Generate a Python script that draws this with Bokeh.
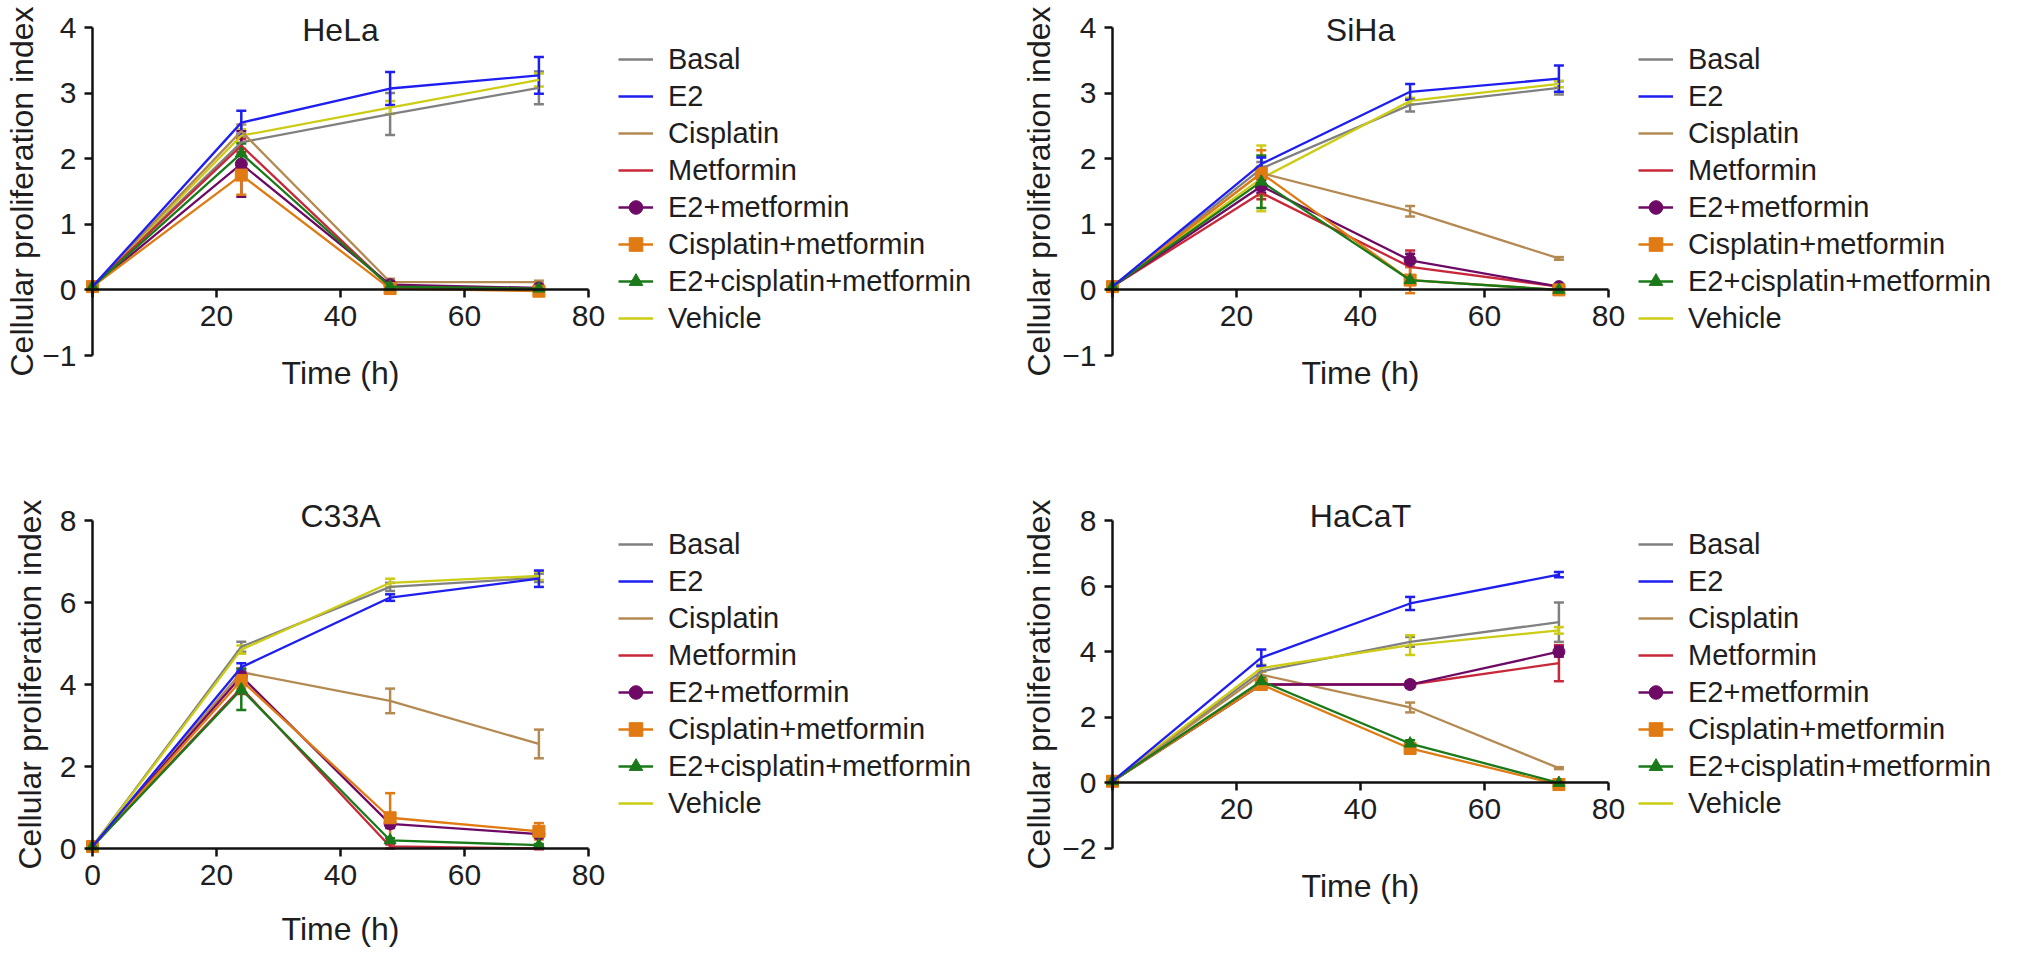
from math import pi

from bokeh.embed import file_html
from bokeh.layouts import column, row
from bokeh.models import (ColumnDataSource, FixedTicker, Label, Legend,
                          LegendItem, Range1d, TeeHead, Whisker)
from bokeh.plotting import figure
from bokeh.resources import INLINE

hours = [0, 24, 48, 72]
x_ticks = [0, 20, 40, 60, 80]

treatments = ["Basal", "E2", "Cisplatin", "Metformin", "E2+metformin",
              "Cisplatin+metformin", "E2+cisplatin+metformin", "Vehicle"]
colors = ["#808080", "#1e1ef0", "#b48a52", "#c8283a", "#6e0a66",
          "#e07a12", "#1a7a1a", "#cccc14"]
markers = [None, None, None, None, "circle", "square", "triangle", None]
# order in which the lines are stacked (last on top)
draw_order = ["Basal", "Vehicle", "Cisplatin", "Metformin", "E2+metformin",
              "Cisplatin+metformin", "E2+cisplatin+metformin", "E2"]

# HeLa
hela_basal = [0.05, 2.25, 2.68, 3.08]
hela_e2 = [0.05, 2.55, 3.07, 3.27]
hela_cis = [0.05, 2.42, 0.12, 0.12]
hela_met = [0.05, 2.20, 0.05, 0.00]
hela_e2met = [0.05, 1.92, 0.08, 0.03]
hela_cismet = [0.05, 1.75, 0.02, -0.02]
hela_e2cismet = [0.05, 2.08, 0.05, 0.02]
hela_vehicle = [0.05, 2.35, 2.78, 3.20]
hela_sd = [[0.03, 0.10, 0.32, 0.25], [0.03, 0.18, 0.25, 0.28],
           [0.03, 0.10, 0.05, 0.02], [0.03, 0.10, 0.05, 0.02],
           [0.03, 0.50, 0.05, 0.02], [0.03, 0.30, 0.05, 0.02],
           [0.03, 0.15, 0.05, 0.02], [0.03, 0.10, 0.10, 0.10]]

# SiHa
siha_basal = [0.05, 1.85, 2.82, 3.08]
siha_e2 = [0.05, 1.92, 3.02, 3.22]
siha_cis = [0.05, 1.78, 1.20, 0.48]
siha_met = [0.05, 1.48, 0.35, 0.05]
siha_e2met = [0.05, 1.58, 0.45, 0.05]
siha_cismet = [0.05, 1.78, 0.15, 0.00]
siha_e2cismet = [0.05, 1.65, 0.15, 0.00]
siha_vehicle = [0.05, 1.70, 2.88, 3.14]
siha_sd = [[0.03, 0.10, 0.10, 0.10], [0.03, 0.10, 0.12, 0.20],
           [0.03, 0.10, 0.08, 0.02], [0.03, 0.10, 0.25, 0.02],
           [0.03, 0.10, 0.10, 0.03], [0.03, 0.35, 0.20, 0.02],
           [0.03, 0.40, 0.05, 0.02], [0.03, 0.50, 0.05, 0.05]]

# C33A
c33a_basal = [0.05, 4.92, 6.38, 6.60]
c33a_e2 = [0.05, 4.42, 6.12, 6.58]
c33a_cis = [0.05, 4.30, 3.60, 2.55]
c33a_met = [0.05, 3.92, 0.05, 0.00]
c33a_e2met = [0.05, 4.20, 0.60, 0.35]
c33a_cismet = [0.05, 4.10, 0.75, 0.42]
c33a_e2cismet = [0.05, 3.88, 0.20, 0.08]
c33a_vehicle = [0.05, 4.85, 6.48, 6.65]
c33a_sd = [[0.03, 0.12, 0.10, 0.10], [0.03, 0.10, 0.08, 0.20],
           [0.03, 0.10, 0.30, 0.35], [0.03, 0.15, 0.05, 0.02],
           [0.03, 0.10, 0.10, 0.10], [0.03, 0.20, 0.60, 0.20],
           [0.03, 0.50, 0.05, 0.03], [0.03, 0.10, 0.10, 0.10]]

# HaCaT
hacat_basal = [0.05, 3.40, 4.30, 4.90]
hacat_e2 = [0.05, 3.82, 5.47, 6.35]
hacat_cis = [0.05, 3.30, 2.30, 0.45]
hacat_met = [0.05, 3.00, 3.00, 3.65]
hacat_e2met = [0.05, 3.00, 3.00, 4.00]
hacat_cismet = [0.05, 3.00, 1.05, -0.05]
hacat_e2cismet = [0.05, 3.10, 1.20, 0.00]
hacat_vehicle = [0.05, 3.50, 4.20, 4.65]
hacat_sd = [[0.03, 0.15, 0.15, 0.60], [0.03, 0.25, 0.20, 0.08],
            [0.03, 0.10, 0.15, 0.03], [0.05, 0.10, 0.10, 0.55],
            [0.05, 0.10, 0.10, 0.15], [0.05, 0.10, 0.10, 0.05],
            [0.05, 0.10, 0.10, 0.05], [0.03, 0.10, 0.30, 0.10]]

hela_y_ticks = [-1, 0, 1, 2, 3, 4]
siha_y_ticks = [-1, 0, 1, 2, 3, 4]
c33a_y_ticks = [0, 2, 4, 6, 8]
hacat_y_ticks = [-2, 0, 2, 4, 6, 8]

FONT = "Liberation Sans"
TEXT = "#1e1e1e"
X_PPU = 6.2      # px per hour
X0_PX = 92       # x=0 from the figure's left edge
AXIS_PX = 328    # length of every y axis


def make_panel(title, means, sds, y_ticks, width, height, top_px,
               title_px, time_px, ylabel_px, legend_top, show_x0):
    y_lo, y_hi = y_ticks[0], y_ticks[-1]
    ppu = AXIS_PX / (y_hi - y_lo)
    y_end = y_hi + top_px / ppu
    x_start = -X0_PX / X_PPU

    p = figure(frame_width=width, frame_height=height,
               x_range=Range1d(x_start, x_start + width / X_PPU),
               y_range=Range1d(y_end - height / ppu, y_end),
               output_backend="svg", toolbar_location=None, min_border=0)
    p.grid.visible = False
    p.outline_line_color = None

    p.xaxis.fixed_location = 0
    p.xaxis.bounds = (x_ticks[0], x_ticks[-1])
    p.xaxis.ticker = FixedTicker(ticks=x_ticks)
    if not show_x0:
        p.xaxis.major_label_overrides = {0: ""}
    p.yaxis.fixed_location = 0
    p.yaxis.bounds = (y_lo, y_hi)
    p.yaxis.ticker = FixedTicker(ticks=y_ticks)
    p.yaxis.major_label_overrides = {t: "\u2212" + str(-t) for t in y_ticks if t < 0}
    for ax in (p.xaxis[0], p.yaxis[0]):
        ax.axis_line_width = 2.5
        ax.axis_line_color = "#111111"
        ax.major_tick_line_width = 2.5
        ax.major_tick_line_color = "#111111"
        ax.major_tick_out = 8
        ax.major_tick_in = 0
        ax.minor_tick_line_color = None
        ax.major_label_text_font = FONT
        ax.major_label_text_font_size = "30px"
        ax.major_label_text_color = TEXT
    p.xaxis.major_label_standoff = 8
    p.yaxis.major_label_standoff = 8

    rends = {}
    for name in draw_order:
        i = treatments.index(name)
        m, s, color = means[i], sds[i], colors[i]
        src = ColumnDataSource(dict(
            x=hours, y=m,
            lower=[a - b for a, b in zip(m, s)],
            upper=[a + b for a, b in zip(m, s)]))
        p.add_layout(Whisker(
            source=src, base="x", lower="lower", upper="upper",
            line_color=color, line_width=2.5,
            upper_head=TeeHead(size=10, line_color=color, line_width=2.5),
            lower_head=TeeHead(size=10, line_color=color, line_width=2.5)))
        r = [p.line("x", "y", source=src, line_color=color, line_width=2.3)]
        if markers[i]:
            r.append(p.scatter("x", "y", source=src, marker=markers[i],
                               size=12, fill_color=color, line_color=color))
        rends[name] = r

    item_h, gap, pad = 34, 3, 4
    n = len(treatments)
    leg_h = 2 * pad + n * item_h + (n - 1) * gap
    legend = Legend(
        items=[LegendItem(label=t, renderers=rends[t]) for t in treatments],
        location=(622 - pad, height - legend_top - leg_h),
        label_text_font=FONT, label_text_font_size="29px",
        label_text_color=TEXT, label_height=item_h, glyph_height=item_h,
        glyph_width=35, label_standoff=15, spacing=gap, padding=pad,
        margin=0, border_line_color=None, background_fill_alpha=0)
    p.add_layout(legend)

    p.add_layout(Label(x=40, y=height - title_px, y_units="screen", text=title,
                       text_align="center", text_baseline="alphabetic",
                       text_font=FONT, text_font_size="32px", text_color=TEXT))
    p.add_layout(Label(x=40, y=height - time_px, y_units="screen", text="Time (h)",
                       text_align="center", text_baseline="middle",
                       text_font=FONT, text_font_size="32px", text_color=TEXT))
    p.add_layout(Label(x=ylabel_px, y=(y_lo + y_hi) / 2, x_units="screen",
                       text="Cellular proliferation index", angle=pi / 2,
                       text_align="center", text_baseline="middle",
                       text_font=FONT, text_font_size="32px", text_color=TEXT))
    return p


p1 = make_panel("HeLa",
                [hela_basal, hela_e2, hela_cis, hela_met, hela_e2met,
                 hela_cismet, hela_e2cismet, hela_vehicle],
                hela_sd, hela_y_ticks, 1020, 480, 27, 29, 372, 21, 34, False)
p2 = make_panel("SiHa",
                [siha_basal, siha_e2, siha_cis, siha_met, siha_e2met,
                 siha_cismet, siha_e2cismet, siha_vehicle],
                siha_sd, siha_y_ticks, 996, 480, 27, 29, 372, 18, 34, False)
p3 = make_panel("C33A",
                [c33a_basal, c33a_e2, c33a_cis, c33a_met, c33a_e2met,
                 c33a_cismet, c33a_e2cismet, c33a_vehicle],
                c33a_sd, c33a_y_ticks, 1020, 470, 40, 35, 448, 29, 39, True)
p4 = make_panel("HaCaT",
                [hacat_basal, hacat_e2, hacat_cis, hacat_met, hacat_e2met,
                 hacat_cismet, hacat_e2cismet, hacat_vehicle],
                hacat_sd, hacat_y_ticks, 996, 470, 40, 35, 405, 18, 39, False)

layout = column(row(p1, p2), row(p3, p4))
open("out.html", "w").write(file_html(layout, INLINE))
